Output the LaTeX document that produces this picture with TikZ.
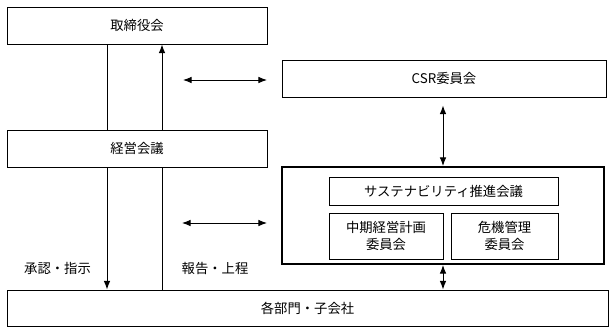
\documentclass[tikz,border=0pt]{standalone}
\usepackage{fontspec}
\setmainfont{Noto Sans CJK JP}
\usepackage{tikz}
\usetikzlibrary{arrows.meta,calc,positioning}

\begin{document}
\begin{tikzpicture}[x=0.75pt,y=-0.75pt,
  box/.style={draw,line width=0.75pt,align=center,inner sep=0pt,font=\fontsize{10pt}{13pt}\selectfont},
  frame/.style={draw,line width=1.5pt,inner sep=0pt},
  lbl/.style={font=\fontsize{10pt}{13pt}\selectfont,inner sep=0pt},
  ln/.style={line width=0.75pt},
  arr/.style={ln,-{Latex[length=6.5pt,width=5pt]}},
  darr/.style={ln,{Latex[length=6.5pt,width=5pt]}-{Latex[length=6.5pt,width=5pt]}}]
\useasboundingbox (0,0) rectangle (613,333);
\node[box,minimum width=260*0.75pt,minimum height=37*0.75pt] (board) at (137,25.5) {取締役会};
\node[box,minimum width=260*0.75pt,minimum height=37*0.75pt] (mgmt) at (137,148.5) {経営会議};
\node[box,minimum width=324*0.75pt,minimum height=37*0.75pt] (csr) at (444,78.5) {CSR委員会};
\node[frame,minimum width=322*0.75pt,minimum height=97*0.75pt] (group) at (443,215.5) {};
\node[box,minimum width=229*0.75pt,minimum height=28*0.75pt] (sust) at (443.5,191) {サステナビリティ推進会議};
\node[box,minimum width=114*0.75pt,minimum height=46*0.75pt] (plan) at (386,236) {中期経営計画\\委員会};
\node[box,minimum width=107*0.75pt,minimum height=46*0.75pt] (risk) at (504.5,236) {危機管理\\委員会};
\node[box,minimum width=601*0.75pt,minimum height=36*0.75pt] (depts) at (307.5,308) {各部門・子会社};
\node[lbl] (order) at (57.5,268) {承認・指示};
\node[lbl] (report) at (215,268) {報告・上程};
% vertical lines
\coordinate (lx) at (107,0);
\coordinate (rx) at (162,0);
\draw[ln] (board.south -| lx) -- (mgmt.north -| lx);
\draw[arr] (mgmt.south -| lx) -- (depts.north -| lx);
\draw[arr] (mgmt.north -| rx) -- (board.south -| rx);
\draw[ln] (depts.north -| rx) -- (mgmt.south -| rx);
% horizontal arrows
\coordinate (h1a) at (183,80);
\coordinate (h1b) at (267,80);
\coordinate (h2a) at (182,223);
\coordinate (h2b) at (267,223);
\draw[darr] (h1a) -- (h1b);
\draw[darr] (h2a) -- (h2b);
% right column
\draw[darr,shorten <=8*0.75pt] (csr.south -| group.north) -- (group.north);
\draw[darr] (group.south) -- (depts.north -| group.south);
\end{tikzpicture}
\end{document}
